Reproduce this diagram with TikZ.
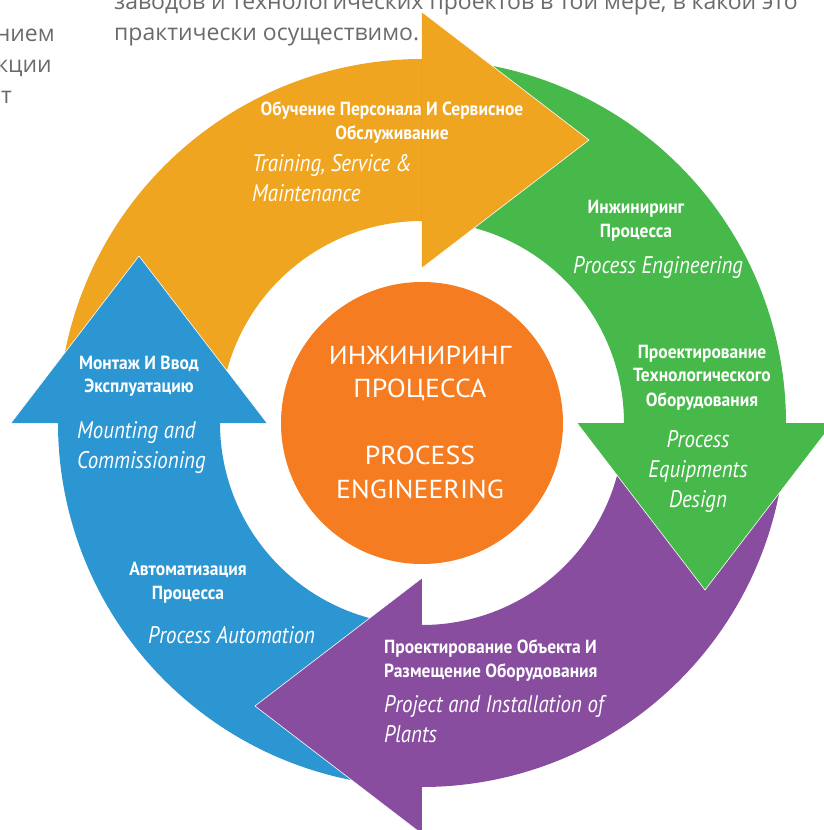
\documentclass[tikz,border=0pt]{standalone}
\usepackage{fontspec}
\setmainfont{PT Sans}
\newfontfamily\notefont{Open Sans}
\newfontfamily\corefont[FakeStretch=1.07]{PT Sans}
\newfontfamily\boldcond[FakeStretch=0.92]{PT Sans}
\newfontfamily\italcond[FakeStretch=0.87]{PT Sans}
\usepackage{tikz}

\definecolor{trainorange}{HTML}{EFA520}
\definecolor{procgreen}{HTML}{46B94A}
\definecolor{plantpurple}{HTML}{884D9F}
\definecolor{autoblue}{HTML}{2C96D3}
\definecolor{coreorange}{HTML}{F57C20}
\definecolor{notegray}{HTML}{6B6B6B}

\tikzset{
	rulabel/.style={text=white,inner sep=0pt,align=center,font=\boldcond\bfseries\fontsize{19}{24}\selectfont},
	enlabel/.style={text=white,inner sep=0pt,font=\italcond\itshape\fontsize{24}{30}\selectfont},
	coretext/.style={text=white,inner sep=0pt,align=center,font=\corefont\fontsize{26}{33.5}\selectfont},
	notetext/.style={text=notegray,inner sep=0pt,font=\notefont\fontsize{23}{31}\selectfont},
	whiteedge/.style={white,line width=0.6pt},
}

\begin{document}
\begin{tikzpicture}[x=1pt,y=1pt]
	\useasboundingbox (-422,-407) rectangle (402,423);
	%
	% ring pieces
	\fill [trainorange] (180:364) arc[start angle=180,end angle=89,radius=364] -- (89:202) arc[start angle=89,end angle=180,radius=202] -- cycle;
	\fill [procgreen] (90:364) arc[start angle=90,end angle=-1,radius=364] -- (-1:202) arc[start angle=-1,end angle=90,radius=202] -- cycle;
	\fill [plantpurple] (0:364) arc[start angle=0,end angle=-91,radius=364] -- (-91:202) arc[start angle=-91,end angle=0,radius=202] -- cycle;
	\fill [autoblue] (-90:364) arc[start angle=-90,end angle=-181,radius=364] -- (-181:202) arc[start angle=-181,end angle=-90,radius=202] -- cycle;
	%
	% heads
	\fill [trainorange] (0,411) -- (167,283) -- (0,155) -- cycle;
	\draw [whiteedge] (0,411) -- (167,283) -- (0,155);
	\fill [procgreen] (411,0) -- (283,-167) -- (155,0) -- cycle;
	\draw [whiteedge] (411,0) -- (283,-167) -- (155,0);
	\fill [plantpurple] (0,-411) -- (-167,-283) -- (0,-155) -- cycle;
	\draw [whiteedge] (0,-411) -- (-167,-283) -- (0,-155);
	\fill [autoblue] (-411,0) -- (-283,167) -- (-155,0) -- cycle;
	\draw [whiteedge] (-411,0) -- (-283,167) -- (-155,0);
	%
	\node [circle,fill=coreorange,minimum size=282pt,inner sep=0pt] (core) at (0,0) {};
	\node [coretext,anchor=base] (coretitle) at (-2,-75) {ИНЖИНИРИНГ\\ПРОЦЕССА\\[33.5pt]PROCESS\\ENGINEERING};
	%
	% labels (base = last line)
	\node [rulabel,anchor=base] (trainru) at (-30,283) {Обучение Персонала И Сервисное\\Обслуживание};
	\node [enlabel,align=left,anchor=base west] (trainen) at (-170,221) {Training, Service \&\\Maintenance};
	\node [rulabel,anchor=base] (procru) at (214,185) {Инжиниринг\\Процесса};
	\node [enlabel,anchor=base west] (procen) at (151,149) {Process Engineering};
	\node [rulabel,anchor=base] (equipru) at (280,17) {Проектирование\\Технологического\\Оборудования};
	\node [enlabel,align=center,anchor=base] (equipen) at (276,-84) {Process\\Equipments\\Design};
	\node [rulabel,align=left,anchor=base west] (plantru) at (-38,-254) {Проектирование Объекта И\\Размещение Оборудования};
	\node [enlabel,align=left,anchor=base west] (planten) at (-38,-319) {Project and Installation of\\Plants};
	\node [rulabel,anchor=base] (autoru) at (-234,-176) {Автоматизация\\Процесса};
	\node [enlabel,anchor=base west] (autoen) at (-274,-220) {Process Automation};
	\node [rulabel,anchor=base] (mountru) at (-283,30) {Монтаж И Ввод\\Эксплуатацию};
	\node [enlabel,align=left,anchor=base west] (mounten) at (-345,-45) {Mounting and\\Commissioning};
	%
	% cut text round the picture
	\node [notetext,anchor=base west] (noteone) at (-308,413) {заводов и технологических проектов в той мере, в какой это};
	\node [notetext,anchor=base west] (notetwo) at (-308,382) {практически осуществимо.};
	\node [notetext,anchor=base east] (sideone) at (-367,381) {нием};
	\node [notetext,anchor=base east] (sidetwo) at (-370,350) {кции};
	\node [notetext,anchor=base east] (sidethree) at (-410,319) {т};
\end{tikzpicture}
\end{document}
